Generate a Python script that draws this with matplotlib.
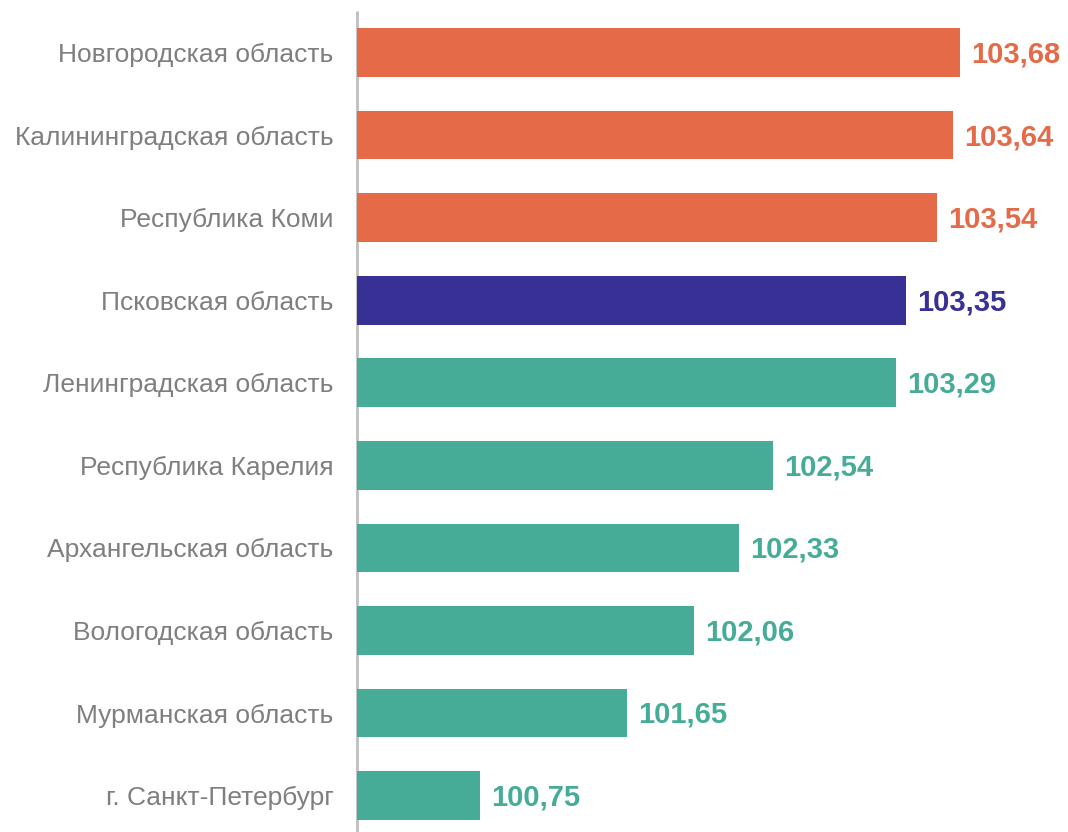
import matplotlib.pyplot as plt
from matplotlib.transforms import offset_copy

plt.rcParams['font.family'] = ['Liberation Sans', 'DejaVu Sans']

regions = [
    "Новгородская область",
    "Калининградская область",
    "Республика Коми",
    "Псковская область",
    "Ленинградская область",
    "Республика Карелия",
    "Архангельская область",
    "Вологодская область",
    "Мурманская область",
    "г. Санкт-Петербург",
]
values = [103.68, 103.64, 103.54, 103.35, 103.29, 102.54, 102.33, 102.06, 101.65, 100.75]
groups = ["top", "top", "top", "own", "rest", "rest", "rest", "rest", "rest", "rest"]

colors = {"top": "#E46A48", "own": "#373196", "rest": "#46AC98"}

W, H = 1068, 832
fig = plt.figure(figsize=(W / 100, H / 100), dpi=100)
ax = fig.add_axes([357 / W, 0, 1 - 357 / W, 1])

base = 100.0
ypos = list(range(len(regions)))
bar_colors = [colors[g] for g in groups]
ax.barh(ypos, [v - base for v in values], left=base, height=0.59,
        color=bar_colors)

ax.set_xlim(base, base + (W - 357) / 163.8)
ax.set_ylim((H - 52.5) / 82.56, -52.5 / 82.56)

ax.set_yticks(ypos)
ax.set_yticklabels(regions, fontsize=19, color="#7F7F7F")
ax.tick_params(axis="y", length=0, pad=17)
ax.set_xticks([])
for s in ax.spines.values():
    s.set_visible(False)

# vertical axis line
ax.plot([base, base], [0, 1 - 11 / H], transform=ax.get_xaxis_transform(),
        color="#BFBFBF", lw=2, clip_on=False, solid_capstyle="butt", zorder=0)

trans = offset_copy(ax.transData, fig=fig, x=11, y=-2, units="dots")
for y, v, c in zip(ypos, values, bar_colors):
    ax.text(v, y, f"{v:.2f}".replace(".", ","), transform=trans,
            ha="left", va="center", fontsize=21, fontweight="bold", color=c)

fig.savefig("out.png", dpi=100)
